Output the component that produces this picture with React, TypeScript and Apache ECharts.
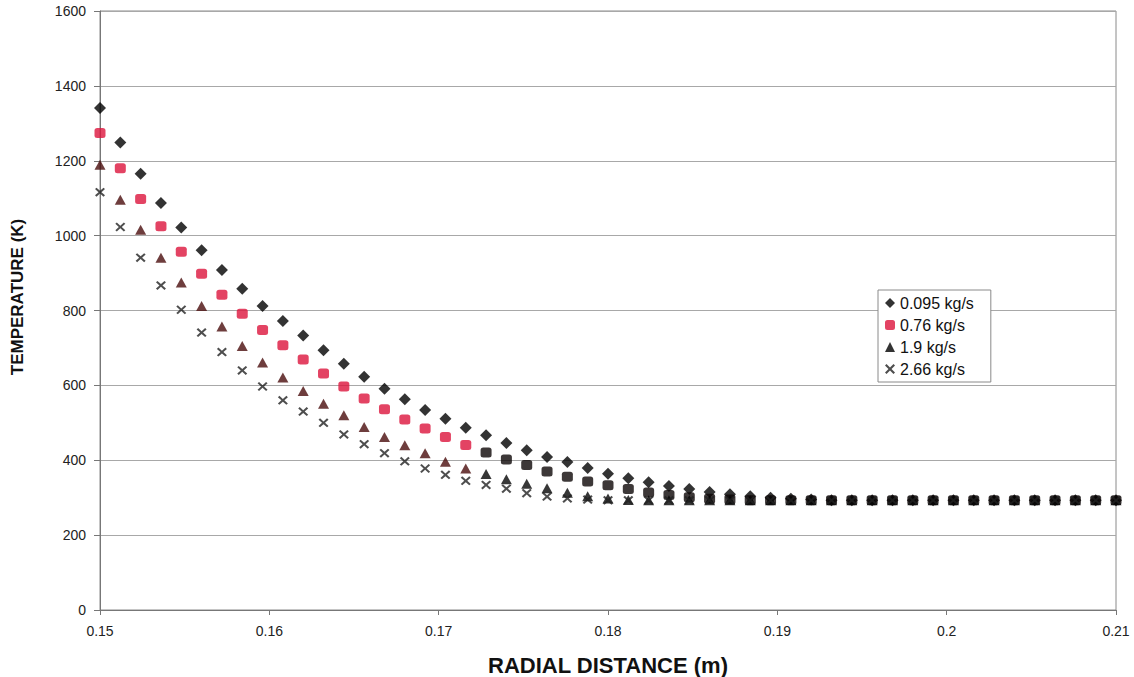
import React, { useEffect, useRef } from "react";
import * as echarts from "echarts";

const RADIAL_DISTANCE = [
  0.15, 0.1512, 0.1524, 0.1536, 0.1548, 0.156, 0.1572, 0.1584, 0.1596, 0.1608,
  0.162, 0.1632, 0.1644, 0.1656, 0.1668, 0.168, 0.1692, 0.1704, 0.1716, 0.1728,
  0.174, 0.1752, 0.1764, 0.1776, 0.1788, 0.18, 0.1812, 0.1824, 0.1836, 0.1848,
  0.186, 0.1872, 0.1884, 0.1896, 0.1908, 0.192, 0.1932, 0.1944, 0.1956, 0.1968,
  0.198, 0.1992, 0.2004, 0.2016, 0.2028, 0.204, 0.2052, 0.2064, 0.2076, 0.2088,
  0.21,
];

const T_0095 = [
  1341, 1249, 1165, 1087, 1022, 961, 908, 858, 812, 772, 733, 694, 658, 623,
  591, 563, 534, 511, 487, 467, 446, 427, 409, 395, 379, 364, 352, 341, 331,
  323, 315, 309, 304, 300, 297, 295, 293, 293, 293, 293, 293, 293, 293, 293,
  293, 293, 293, 293, 293, 293, 293,
];

const T_076 = [
  1274, 1180, 1098, 1025, 957, 898, 842, 791, 748, 707, 669, 632, 597, 565,
  536, 509, 485, 462, 441, 421, 402, 387, 370, 356, 343, 333, 323, 314, 307,
  301, 297, 295, 293, 293, 293, 293, 293, 293, 293, 293, 293, 293, 293, 293,
  293, 293, 293, 293, 293, 293, 293,
];

const T_19 = [
  1189, 1096, 1016, 941, 875, 812, 757, 705, 661, 621, 585, 551, 520, 489,
  462, 440, 419, 396, 378, 363, 349, 337, 325, 313, 304, 298, 294, 293, 293,
  293, 293, 293, 293, 293, 293, 293, 293, 293, 293, 293, 293, 293, 293, 293,
  293, 293, 293, 293, 293, 293, 293,
];

const T_266 = [
  1116, 1023, 941, 867, 802, 741, 689, 640, 597, 560, 530, 500, 469, 443, 419,
  397, 378, 361, 345, 334, 324, 312, 303, 298, 295, 293, 293, 293, 293, 293,
  293, 293, 293, 293, 293, 293, 293, 293, 293, 293, 293, 293, 293, 293, 293,
  293, 293, 293, 293, 293, 293,
];

const SERIES_NAMES = ["0.095 kg/s", "0.76 kg/s", "1.9 kg/s", "2.66 kg/s"];
const X_TICKS = [0.15, 0.16, 0.17, 0.18, 0.19, 0.2, 0.21];
const Y_TICKS = [0, 200, 400, 600, 800, 1000, 1200, 1400, 1600];

const CROSS =
  "path://M0,1.5L1.5,0L5,3.5L8.5,0L10,1.5L6.5,5L10,8.5L8.5,10L5,6.5L1.5,10L0,8.5L3.5,5Z";

const FONT = "'Liberation Sans', Arial, sans-serif";

export default function App() {
  const ref = useRef<HTMLDivElement>(null);

  useEffect(() => {
    if (!ref.current) return;
    const chart = echarts.init(ref.current, undefined, { renderer: "svg" });

    const pair = (arr: number[]) => RADIAL_DISTANCE.map((x, i) => [x, arr[i]]);
    const tinted = (arr: number[], early: string, late: string, cut: number) =>
      RADIAL_DISTANCE.map((x, i) => ({
        value: [x, arr[i]],
        itemStyle: { color: i < cut ? early : late },
      }));

    chart.setOption({
      animation: false,
      backgroundColor: "#ffffff",
      grid: {
        left: 100,
        right: 18,
        top: 11,
        bottom: 67,
        containLabel: false,
        outerBoundsMode: "none",
        show: true,
        borderColor: "#8a8a8a",
        borderWidth: 1,
      },
      legend: {
        orient: "vertical",
        left: 878,
        top: 290,
        data: SERIES_NAMES,
        itemWidth: 10,
        itemHeight: 10,
        itemGap: 6,
        itemTextGap: 7,
        padding: [5, 17, 5, 7],
        borderColor: "#8a8a8a",
        borderWidth: 1,
        backgroundColor: "#ffffff",
        textStyle: { fontFamily: FONT, fontSize: 16, color: "#111", lineHeight: 16 },
      },
      xAxis: {
        type: "value",
        min: 0.15,
        max: 0.21,
        interval: 0.01,
        name: "RADIAL DISTANCE (m)",
        nameLocation: "middle",
        nameGap: 44,
        nameTextStyle: {
          fontFamily: FONT,
          fontSize: 22,
          fontWeight: "bold",
          color: "#111",
        },
        axisLine: { show: true, lineStyle: { color: "#777", width: 1 } },
        axisTick: { show: true, inside: false, length: 5, lineStyle: { color: "#777" } },
        axisLabel: {
          margin: 14,
          fontFamily: FONT,
          fontSize: 14,
          color: "#222",
          formatter: (v: number) => {
            const r = parseFloat(v.toFixed(3));
            return X_TICKS.some((t) => Math.abs(t - r) < 1e-6) ? String(r) : "";
          },
        },
        splitLine: { show: false },
      },
      yAxis: {
        type: "value",
        min: 0,
        max: 1600,
        interval: 200,
        axisLine: { show: true, lineStyle: { color: "#777", width: 1 } },
        axisTick: { show: true, inside: false, length: 6, lineStyle: { color: "#777" } },
        axisLabel: {
          margin: 14,
          fontFamily: FONT,
          fontSize: 14,
          color: "#222",
          formatter: (v: number) => (Y_TICKS.includes(v) ? String(v) : ""),
        },
        splitLine: { show: true, lineStyle: { color: "#a8a8a8", width: 1 } },
      },
      graphic: [
        {
          type: "text",
          x: 17,
          y: 297,
          rotation: Math.PI / 2,
          style: {
            text: "TEMPERATURE (K)",
            fontFamily: FONT,
            fontSize: 17,
            fontWeight: "bold",
            fill: "#111",
            align: "center",
            verticalAlign: "middle",
          },
        },
      ],
      series: [
        {
          name: SERIES_NAMES[0],
          type: "scatter",
          symbol: "diamond",
          symbolSize: [12, 12],
          itemStyle: { color: "#000000" },
          data: pair(T_0095),
          z: 2,
        },
        {
          name: SERIES_NAMES[1],
          type: "scatter",
          symbol: "roundRect",
          symbolSize: [11, 10],
          itemStyle: { color: "#dc143c" },
          data: tinted(T_076, "#dc143c", "#0c0606", 19),
          z: 3,
        },
        {
          name: SERIES_NAMES[2],
          type: "scatter",
          symbol: "triangle",
          symbolSize: [11, 10],
          itemStyle: { color: "#000000" },
          data: tinted(T_19, "#4a0c0c", "#050505", 19),
          z: 4,
        },
        {
          name: SERIES_NAMES[3],
          type: "scatter",
          symbol: CROSS,
          symbolSize: [10, 9],
          itemStyle: { color: "#222222" },
          data: pair(T_266),
          z: 5,
        },
      ],
    });

    return () => chart.dispose();
  }, []);

  return (
    <div
      ref={ref}
      style={{ width: 1134, height: 677, position: "absolute", left: 0, top: 0 }}
    />
  );
}
